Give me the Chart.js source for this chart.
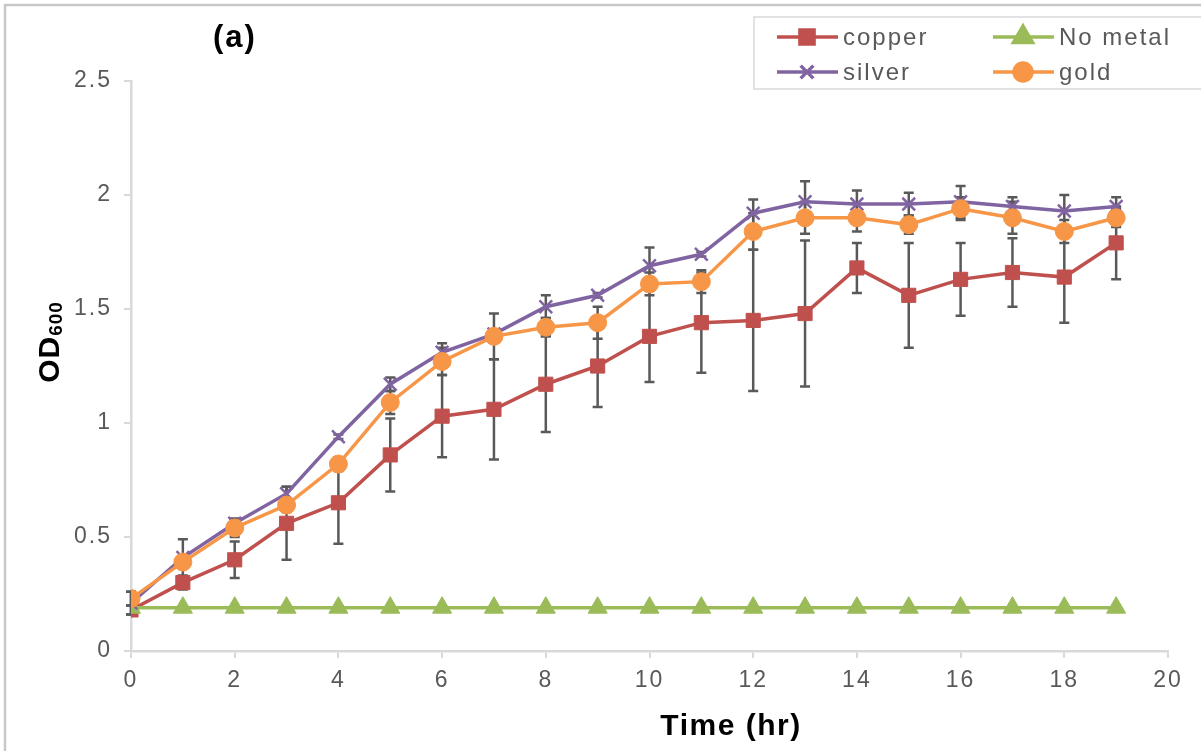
<!DOCTYPE html>
<html>
<head>
<meta charset="utf-8">
<title>OD600 growth curves</title>
<script src="https://cdn.jsdelivr.net/npm/chart.js@4.4.1/dist/chart.umd.min.js"></script>
<style>
  html, body { margin: 0; padding: 0; background: #fff; }
  #wrap { position: relative; width: 1201px; height: 751px; }
</style>
</head>
<body>
<div id="wrap"><canvas id="growth" width="1201" height="751"></canvas></div>
<script>
// time points (hr)
const hours = [0, 1, 2, 3, 4, 5, 6, 7, 8, 9, 10, 11, 12, 13, 14, 15, 16, 17, 18, 19];

// OD600 readings per treatment
const copper = [0.18, 0.30, 0.40, 0.56, 0.65, 0.86, 1.03, 1.06, 1.17, 1.25, 1.38, 1.44, 1.45, 1.48, 1.68, 1.56, 1.63, 1.66, 1.64, 1.79];
const noMetal = [0.19, 0.19, 0.19, 0.19, 0.19, 0.19, 0.19, 0.19, 0.19, 0.19, 0.19, 0.19, 0.19, 0.19, 0.19, 0.19, 0.19, 0.19, 0.19, 0.19];
const silver = [0.21, 0.41, 0.56, 0.69, 0.94, 1.17, 1.31, 1.39, 1.51, 1.56, 1.69, 1.74, 1.92, 1.97, 1.96, 1.96, 1.97, 1.95, 1.93, 1.95];
const gold = [0.23, 0.39, 0.54, 0.64, 0.82, 1.09, 1.27, 1.38, 1.42, 1.44, 1.61, 1.62, 1.84, 1.90, 1.90, 1.87, 1.94, 1.90, 1.84, 1.90];

// standard deviations
const copperErr = [0.02, 0.03, 0.08, 0.16, 0.18, 0.16, 0.18, 0.22, 0.21, 0.18, 0.20, 0.22, 0.31, 0.32, 0.11, 0.23, 0.16, 0.15, 0.20, 0.16];
const silverErr = [0.05, 0.08, 0.02, 0.03, 0.01, 0.03, 0.04, 0.02, 0.05, 0.01, 0.08, 0.01, 0.06, 0.09, 0.06, 0.05, 0.07, 0.04, 0.07, 0.04];
const goldErr = [0.03, 0.02, 0.04, 0.03, 0.03, 0.05, 0.06, 0.10, 0.04, 0.07, 0.05, 0.05, 0.08, 0.07, 0.06, 0.04, 0.05, 0.07, 0.05, 0.04];
const noMetalErr = [0, 0, 0, 0, 0, 0, 0, 0, 0, 0, 0, 0, 0, 0, 0, 0, 0, 0, 0, 0];

const xTicks = [0, 2, 4, 6, 8, 10, 12, 14, 16, 18, 20];
const yTicks = [0, 0.5, 1, 1.5, 2, 2.5];

const FONT = "'Liberation Sans', Arial, sans-serif";
const TEXT = '#595959';
const AXIS = '#d9d9d9';

function pts(values) {
    return values.map((v, i) => ({ x: hours[i], y: v }));
}

// error bars go under the lines and markers
const errorBars = {
    id: 'errorBars',
    beforeDatasetsDraw(chart) {
        const ctx = chart.ctx;
        const ys = chart.scales.y, xs = chart.scales.x;
        ctx.save();
        ctx.strokeStyle = '#595959';
        ctx.lineWidth = 2.5;
        chart.data.datasets.forEach(ds => {
            if (!ds.err) return;
            ds.data.forEach((p, i) => {
                const e = ds.err[i];
                if (!e) return;
                const x = xs.getPixelForValue(p.x);
                const y1 = ys.getPixelForValue(p.y + e);
                const y2 = ys.getPixelForValue(p.y - e);
                ctx.beginPath();
                ctx.moveTo(x, y1); ctx.lineTo(x, y2);
                ctx.moveTo(x - 5, y1); ctx.lineTo(x + 5, y1);
                ctx.moveTo(x - 5, y2); ctx.lineTo(x + 5, y2);
                ctx.stroke();
            });
        });
        ctx.restore();
    }
};

// frame, panel letter, axis titles and the legend box
const decorations = {
    id: 'decorations',
    beforeDraw(chart) {
        const ctx = chart.ctx;
        ctx.save();
        ctx.fillStyle = '#fff';
        ctx.fillRect(0, 0, chart.width, chart.height);
        ctx.strokeStyle = '#c8c8c8';
        ctx.lineWidth = 2.5;
        ctx.strokeRect(5, 5, chart.width + 20, chart.height + 20);
        ctx.restore();
        // spaced-out lettering for the tick labels
        ctx.letterSpacing = '2px';
    },
    afterDraw(chart) {
        const ctx = chart.ctx;
        ctx.save();
        ctx.fillStyle = '#000';
        ctx.textBaseline = 'middle';

        ctx.letterSpacing = '2px';
        ctx.font = 'bold 31px ' + FONT;
        ctx.textAlign = 'left';
        ctx.fillText('(a)', 213, 38);

        ctx.letterSpacing = '1.5px';
        ctx.font = 'bold 30px ' + FONT;
        ctx.textAlign = 'center';
        ctx.fillText('Time (hr)', 731, 727);

        // OD with subscript 600, rotated
        ctx.letterSpacing = '1px';
        ctx.translate(51, 342);
        ctx.rotate(-Math.PI / 2);
        ctx.textAlign = 'left';
        ctx.font = 'bold 30px ' + FONT;
        const w1 = ctx.measureText('OD').width;
        ctx.font = 'bold 19px ' + FONT;
        const w2 = ctx.measureText('600').width;
        const start = -(w1 + w2) / 2;
        ctx.font = 'bold 30px ' + FONT;
        ctx.fillText('OD', start, 0);
        ctx.font = 'bold 19px ' + FONT;
        ctx.fillText('600', start + w1, 6);
        ctx.setTransform(1, 0, 0, 1, 0, 0);

        // legend
        ctx.strokeStyle = AXIS;
        ctx.lineWidth = 1.5;
        ctx.strokeRect(754, 17, 470, 72);
        const slots = [[777, 37], [993, 37], [777, 72], [993, 72]];
        ctx.letterSpacing = '2px';
        ctx.font = '24px ' + FONT;
        ctx.textAlign = 'left';
        chart.data.datasets.forEach((ds, k) => {
            const [x, y] = slots[k];
            ctx.strokeStyle = ds.borderColor;
            ctx.lineWidth = 3.5;
            ctx.beginPath();
            ctx.moveTo(x, y); ctx.lineTo(x + 61, y);
            ctx.stroke();
            ctx.fillStyle = ds.pointBackgroundColor;
            ctx.strokeStyle = ds.pointBorderColor;
            Chart.helpers.drawPoint(ctx, {
                pointStyle: ds.pointStyle,
                radius: ds.pointRadius,
                rotation: 0,
                borderWidth: ds.pointBorderWidth
            }, x + 30, y);
            ctx.fillStyle = TEXT;
            ctx.fillText(ds.label, x + 66, y + 1);
        });
        ctx.restore();
        ctx.letterSpacing = '0px';
    }
};

function series(label, values, err, color, style, radius, order) {
    return {
        label: label,
        data: pts(values),
        err: err,
        borderColor: color,
        backgroundColor: color,
        borderWidth: 3.5,
        pointStyle: style,
        pointRadius: radius,
        pointHoverRadius: radius,
        pointBackgroundColor: color,
        pointBorderColor: color,
        pointBorderWidth: style === 'crossRot' ? 2.5 : 1,
        tension: 0,
        order: order
    };
}

new Chart(document.getElementById('growth'), {
    type: 'line',
    data: {
        datasets: [
            series('copper', copper, copperErr, '#c0504d', 'rect', 10, 4),
            series('No metal', noMetal, noMetalErr, '#9bbb59', 'triangle', 11, 3),
            series('silver', silver, silverErr, '#8064a2', 'crossRot', 9, 2),
            series('gold', gold, goldErr, '#f79646', 'circle', 9, 1)
        ]
    },
    options: {
        responsive: false,
        animation: false,
        layout: { padding: { left: 0, top: 81, right: 33, bottom: 0 } },
        plugins: {
            legend: { display: false },
            tooltip: { enabled: false }
        },
        scales: {
            x: {
                type: 'linear',
                min: 0,
                max: 20,
                afterFit: s => { s.height = 100; },
                afterBuildTicks: s => { s.ticks = xTicks.map(v => ({ value: v })); },
                grid: { drawOnChartArea: false, color: AXIS, lineWidth: 2, tickLength: 7 },
                border: { color: AXIS, width: 2.5 },
                ticks: {
                    color: TEXT, font: { family: FONT, size: 23 }, padding: 9, maxRotation: 0,
                    callback: v => String(v)
                }
            },
            y: {
                min: 0,
                max: 2.5,
                afterFit: s => { s.width = 131; },
                afterBuildTicks: s => { s.ticks = yTicks.map(v => ({ value: v })); },
                grid: { drawOnChartArea: false, color: AXIS, lineWidth: 2, tickLength: 7 },
                border: { color: AXIS, width: 2.5 },
                ticks: {
                    color: TEXT, font: { family: FONT, size: 23 }, padding: 12,
                    callback: v => String(v)
                }
            }
        }
    },
    plugins: [errorBars, decorations]
});
</script>
</body>
</html>
